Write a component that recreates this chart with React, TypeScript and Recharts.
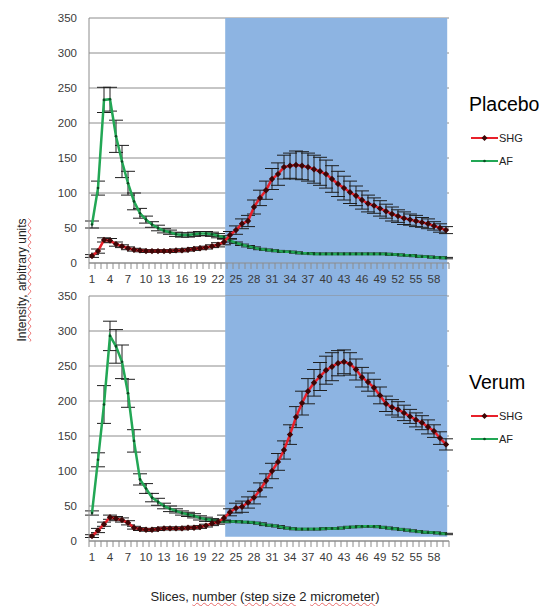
import React from "react"
import { LineChart, Line, XAxis, YAxis, CartesianGrid, ReferenceArea, ErrorBar } from "recharts"

// slice numbers (categories)
const slices = [
  1, 2, 3, 4, 5, 6, 7, 8, 9, 10, 11, 12, 13, 14, 15, 16, 17, 18, 19, 20,
  21, 22, 23, 24, 25, 26, 27, 28, 29, 30, 31, 32, 33, 34, 35, 36, 37, 38, 39, 40,
  41, 42, 43, 44, 45, 46, 47, 48, 49, 50, 51, 52, 53, 54, 55, 56, 57, 58, 59, 60,
]
const sliceLabels = [1, 4, 7, 10, 13, 16, 19, 22, 25, 28, 31, 34, 37, 40, 43, 46, 49, 52, 55, 58]
const yTicks = [0, 50, 100, 150, 200, 250, 300, 350]

// Placebo
const placeboShg = [
  10, 17, 33, 32, 27, 24, 21, 19, 18, 17, 17, 17, 17, 17, 18, 18, 19, 20, 21, 22,
  24, 26, 30, 40, 47, 56, 60, 80, 93, 104, 120, 127, 137, 139, 140, 139, 137, 134, 131, 127,
  120, 113, 107, 101, 96, 90, 85, 82, 78, 74, 70, 67, 64, 62, 60, 58, 56, 53, 50, 47,
]
const placeboShgErr = [
  2, 3, 3, 3, 3, 2, 2, 2, 2, 2, 2, 2, 2, 2, 2, 2, 2, 2, 2, 2,
  2, 3, 4, 5, 6, 7, 8, 10, 11, 13, 15, 16, 17, 18, 20, 20, 20, 20, 20, 20,
  19, 18, 17, 16, 14, 13, 12, 11, 11, 10, 10, 9, 9, 8, 8, 7, 7, 6, 6, 5,
]
const placeboAf = [
  55, 107, 233, 234, 181, 145, 114, 88, 71, 62, 55, 50, 46, 44, 41, 40, 40, 41, 42, 42,
  41, 39, 37, 32, 29, 26, 24, 22, 20, 19, 18, 17, 16, 16, 15, 14, 14, 13, 13, 13,
  13, 13, 13, 13, 13, 13, 13, 13, 13, 13, 12, 12, 11, 11, 10, 9, 9, 8, 8, 7,
]
const placeboAfErr = [
  5, 10, 18, 17, 23, 23, 17, 12, 7, 5, 4, 4, 3, 3, 3, 3, 3, 3, 3, 3,
  3, 3, 2, 2, 1, 1, 1, 1, 1, 1, 1, 1, 1, 1, 1, 1, 1, 1, 1, 1,
  1, 1, 1, 1, 1, 1, 1, 1, 1, 1, 1, 1, 1, 1, 1, 1, 1, 1, 1, 1,
]

// Verum
const verumShg = [
  7, 15, 24, 34, 32, 30, 26, 19, 17, 16, 16, 17, 18, 18, 18, 18, 19, 19, 20, 22,
  25, 27, 33, 41, 47, 49, 55, 62, 73, 86, 100, 113, 130, 152, 177, 197, 214, 226, 235, 244,
  249, 254, 256, 253, 245, 234, 227, 219, 208, 196, 191, 188, 183, 178, 173, 169, 163, 157, 147, 138,
]
const verumShgErr = [
  2, 3, 3, 3, 3, 3, 3, 2, 2, 2, 2, 2, 2, 2, 2, 2, 2, 2, 2, 2,
  3, 3, 4, 5, 7, 8, 8, 9, 10, 10, 11, 12, 13, 14, 15, 17, 18, 19, 20, 20,
  20, 18, 17, 16, 15, 14, 13, 12, 12, 11, 11, 11, 11, 10, 10, 10, 10, 9, 9, 8,
]
const verumAf = [
  40, 116, 195, 293, 278, 256, 211, 143, 88, 75, 62, 56, 50, 46, 43, 40, 38, 36, 33, 31,
  30, 29, 28, 28, 28, 27, 27, 26, 25, 23, 22, 21, 19, 18, 17, 17, 17, 17, 17, 18,
  18, 18, 19, 20, 20, 21, 21, 21, 20, 19, 18, 17, 16, 15, 14, 13, 12, 12, 11, 10,
]
const verumAfErr = [
  3, 10, 27, 21, 24, 24, 20, 16, 8, 7, 6, 5, 4, 4, 3, 3, 3, 3, 3, 3,
  2, 2, 2, 1, 1, 1, 1, 1, 1, 1, 1, 1, 1, 1, 1, 1, 1, 1, 1, 1,
  1, 1, 1, 1, 1, 1, 1, 1, 1, 1, 1, 1, 1, 1, 1, 1, 1, 1, 1, 1,
]

const FONT = "'Liberation Sans', Arial, sans-serif"
const BLUE = "#8db4e2"
const GRID = "#8c8c8c"
const RED = "#e8202a"
const GREEN = "#22a755"

// tick marks sit on slice boundaries, labels on slice centres
const xTicks = [...slices.map((s) => s - 0.5), slices[slices.length - 1] + 0.5, ...sliceLabels].sort((a, b) => a - b)

const XTick = (props: any) => {
  const { x, y, payload } = props
  const v = payload.value
  if (Number.isInteger(v)) {
    return (
      <text x={x} y={y + 12} textAnchor="middle" fontSize={11.5} fill="#3a3a3a" fontFamily={FONT}>
        {v}
      </text>
    )
  }
  return <line x1={x} x2={x} y1={y - 8} y2={y - 2} stroke={GRID} strokeWidth={1} />
}

const ShgDot = (props: any) => {
  const { cx, cy, index } = props
  if (cx == null || cy == null) return <g key={index} />
  const r = 3.2
  return <path key={index} d={`M${cx},${cy - r}L${cx + r},${cy}L${cx},${cy + r}L${cx - r},${cy}Z`} fill="#3d0606" />
}

function Panel({ shg, shgErr, af, afErr, shadeBottom }: any) {
  const data = slices.map((s, i) => ({ slice: s, shg: shg[i], shgErr: shgErr[i], af: af[i], afErr: afErr[i] }))
  return (
    <LineChart width={547} height={296} data={data} margin={{ top: 18, right: 98, bottom: 0, left: 0 }}>
      <ReferenceArea x1={23.2} x2={60.2} y1={shadeBottom} y2={350} fill={BLUE} fillOpacity={1} stroke="none" ifOverflow="visible" />
      <CartesianGrid vertical={false} stroke={GRID} strokeWidth={1} />
      <XAxis
        type="number"
        dataKey="slice"
        domain={[0.5, 60.5]}
        ticks={xTicks}
        interval={0}
        tickLine={false}
        tick={<XTick />}
        axisLine={{ stroke: GRID }}
        height={33}
      />
      <YAxis
        domain={[0, 350]}
        ticks={yTicks}
        interval={0}
        width={89}
        tickLine={false}
        tickSize={0}
        tickMargin={12}
        axisLine={{ stroke: GRID }}
        tick={{ fontSize: 11.5, fill: "#3a3a3a", fontFamily: FONT }}
      />
      <Line dataKey="af" stroke={GREEN} strokeWidth={2.5} dot={{ r: 1.3, fill: "#0b4a22", stroke: "none" }} isAnimationActive={false}>
        <ErrorBar dataKey="afErr" direction="y" width={7} stroke="#1e1e1e" strokeWidth={1} />
      </Line>
      <Line dataKey="shg" stroke={RED} strokeWidth={2.5} dot={<ShgDot />} isAnimationActive={false}>
        <ErrorBar dataKey="shgErr" direction="y" width={7} stroke="#1e1e1e" strokeWidth={1} />
      </Line>
    </LineChart>
  )
}

function LegendBlock({ title, top }: { title: string; top: number }) {
  const row = (label: string, color: string, y: number, diamond: boolean) => (
    <div style={{ position: "absolute", left: 0, top: y, height: 14, width: 80 }}>
      <svg width={30} height={14} style={{ position: "absolute", left: 0, top: 0 }}>
        <line x1={1} x2={28} y1={7} y2={7} stroke={color} strokeWidth={2} />
        {diamond ? <path d="M14.5,4L17.5,7L14.5,10L11.5,7Z" fill="#3d0606" /> : <circle cx={14.5} cy={7} r={1.3} fill="#0b4a22" />}
      </svg>
      <span style={{ position: "absolute", left: 29, top: 0, fontSize: 11, lineHeight: "14px", color: "#222" }}>{label}</span>
    </div>
  )
  return (
    <div style={{ position: "absolute", left: 470, top, width: 77, height: 80, fontFamily: FONT }}>
      <div style={{ position: "absolute", left: -1, top: 0, fontSize: 19.5, lineHeight: "24px", color: "#000" }}>{title}</div>
      {row("SHG", RED, 39, true)}
      {row("AF", GREEN, 62, false)}
    </div>
  )
}

const squiggle: React.CSSProperties = {
  textDecorationLine: "underline",
  textDecorationStyle: "wavy",
  textDecorationColor: "#e86a6a",
  textDecorationThickness: "1px",
}

export default function App() {
  return (
    <div style={{ position: "absolute", left: 0, top: 0, width: 547, height: 606, background: "#fff", overflow: "hidden" }}>
      <div style={{ position: "absolute", left: 0, top: 0 }}>
        <Panel shg={placeboShg} shgErr={placeboShgErr} af={placeboAf} afErr={placeboAfErr} shadeBottom={-47} />
      </div>
      <div style={{ position: "absolute", left: 0, top: 278 }}>
        <Panel shg={verumShg} shgErr={verumShgErr} af={verumAf} afErr={verumAfErr} shadeBottom={6} />
      </div>
      <LegendBlock title="Placebo" top={92} />
      <LegendBlock title="Verum" top={370} />
      <div
        style={{
          position: "absolute",
          left: 22,
          top: 280,
          transform: "translate(-50%, -50%) rotate(-90deg)",
          whiteSpace: "nowrap",
          fontFamily: FONT,
          fontSize: 12,
          color: "#222",
          ...squiggle,
        }}
      >
        Intensity, arbitrary units
      </div>
      <div
        style={{
          position: "absolute",
          left: 265,
          top: 596,
          transform: "translate(-50%, -50%)",
          whiteSpace: "nowrap",
          fontFamily: FONT,
          fontSize: 13,
          color: "#222",
        }}
      >
        Slices, <span style={squiggle}>number</span> (<span style={squiggle}>step size</span> 2 <span style={squiggle}>micrometer</span>)
      </div>
    </div>
  )
}
